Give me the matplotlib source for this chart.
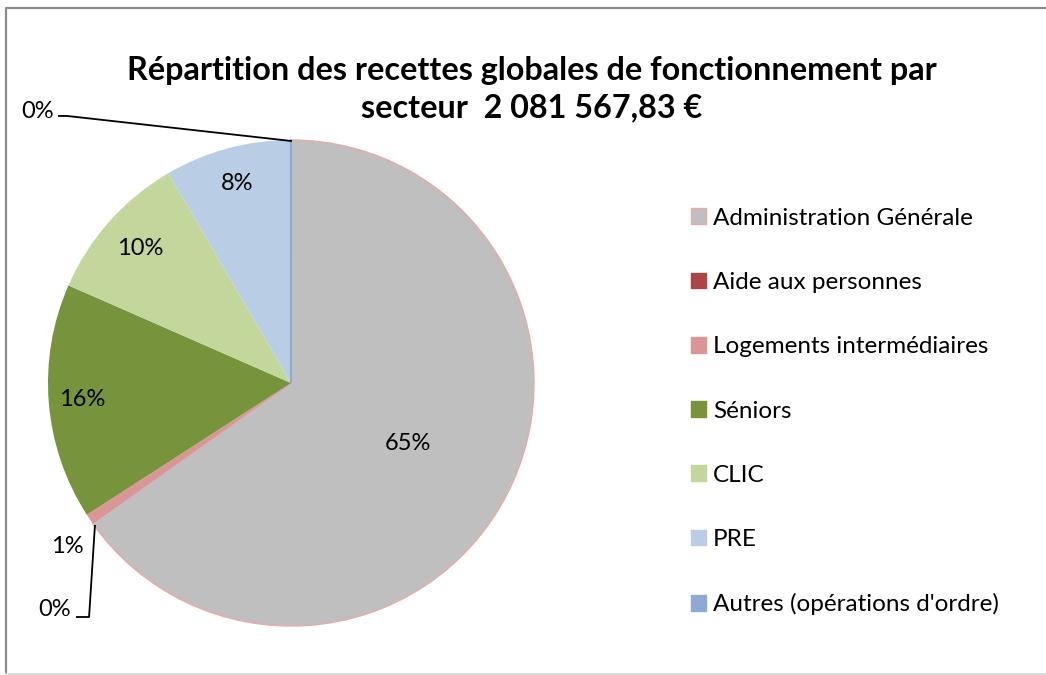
import numpy as np
import matplotlib.pyplot as plt
from matplotlib.patches import Patch
from matplotlib.lines import Line2D

# secteurs, dans l'ordre du graphique (sens horaire depuis midi)
secteurs = ['Administration Générale', 'Aide aux personnes', 'Logements intermédiaires',
            'Séniors', 'CLIC', 'PRE', "Autres (opérations d'ordre)"]
parts = [65.2, 0.02, 0.65, 15.7, 10.0, 8.4, 0.02]
etiquettes = ['65%', '0%', '1%', '16%', '10%', '8%', '0%']
couleurs = ['#BFBFBF', '#AA4643', '#D99694', '#77933C', '#C3D69B', '#B9CDE5', '#8FA9D3']

W, H = 1046, 675
plt.rcParams['font.family'] = ['Lato', 'DejaVu Sans']
fig = plt.figure(figsize=(W / 100, H / 100), dpi=100)

# cadre du graphique (bord droit hors image)
fig.lines.append(Line2D([5.5 / W, 5.5 / W, 1], [0.002, 1 - 8 / H, 1 - 8 / H], transform=fig.transFigure,
                        color='#8C8C8C', lw=1.6))
fig.lines.append(Line2D([5.5 / W, 1], [0.002, 0.002], transform=fig.transFigure, color='#D9D9D9', lw=1.5))

cx, cy, r = 291, 383, 243
ax = fig.add_axes([(cx - r) / W, (H - cy - r) / H, 2 * r / W, 2 * r / H])
wedges, _ = ax.pie(parts, colors=couleurs, startangle=90, counterclock=False, radius=1,
                   wedgeprops=dict(linewidth=0))
wedges[0].set_edgecolor('#E8A9A9')
wedges[0].set_linewidth(1.0)
wedges[6].set_edgecolor('#8FA9D3')
wedges[6].set_linewidth(1.2)
ax.set_xlim(-1, 1)
ax.set_ylim(-1, 1)
ax.set_aspect('equal')
ax.axis('off')

fs = 17

# étiquettes à l'intérieur (distance relative au rayon)
dist = {0: 0.54, 3: 0.86, 4: 0.83, 5: 0.85}
for i, d in dist.items():
    w = wedges[i]
    a = np.deg2rad((w.theta1 + w.theta2) / 2)
    ax.text(d * np.cos(a), d * np.sin(a), etiquettes[i], ha='center', va='center', fontsize=fs)

# étiquettes extérieures avec traits de rappel
ax.text(-0.922, -0.671, etiquettes[2], ha='center', va='center', fontsize=fs)
ax.text(-0.971, -0.934, etiquettes[1], ha='center', va='center', fontsize=fs)
ax.plot([-0.807, -0.831, -0.881], [-0.588, -0.963, -0.963], color='black', lw=1.3, clip_on=False)
ax.text(-1.041, 1.118, etiquettes[6], ha='center', va='center', fontsize=fs)
ax.plot([-0.955, -0.922, 0], [1.099, 1.099, 0.996], color='black', lw=1.3, clip_on=False)

fig.text(532 / W, 1 - 89 / H, 'Répartition des recettes globales de fonctionnement par\nsecteur  2 081 567,83 €',
         ha='center', va='center', fontsize=23.3, fontweight='bold', linespacing=1.33)

poignees = [Patch(facecolor=c, edgecolor=('#E8A9A9' if i == 0 else c)) for i, c in enumerate(couleurs)]
fig.legend(poignees, secteurs, loc='upper left', bbox_to_anchor=(681 / W, 1 - 198 / H),
           frameon=False, fontsize=17.5, handlelength=0.62, handleheight=0.62, handletextpad=0.3,
           labelspacing=1.78, borderaxespad=0)

fig.savefig('out.png', dpi=100)
